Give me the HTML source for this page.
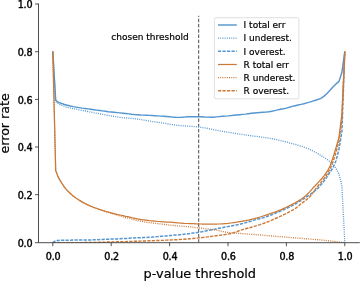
<!DOCTYPE html>
<html lang="en"><head><meta charset="utf-8"><title>error rate vs p-value threshold</title>
<style>html,body{margin:0;padding:0;background:#fff}svg{display:block}text{font-family:"DejaVu Sans","Liberation Sans",sans-serif;fill:#000;stroke:#000}</style></head><body>
<svg width="360" height="281" viewBox="0 0 360 281" stroke-width="0.2">
<rect width="360" height="281" fill="#fff"/>
<defs><clipPath id="ax"><rect x="38.5" y="3.9" width="320.8" height="238.8"/></clipPath></defs>
<line x1="198.7" y1="242.2" x2="198.7" y2="15.8" stroke="#4d4d4d" stroke-width="1" stroke-dashoffset="0.5" stroke-dasharray="3.5 1.75"/>
<g clip-path="url(#ax)" fill="none" stroke-linejoin="round">
<polyline points="52.8,51.5 55.7,100.4 58.6,102.3 61.6,103.5 64.5,104.5 67.4,105.3 70.3,106.0 73.2,106.6 76.2,107.1 79.1,107.6 82.0,108.1 84.9,108.5 87.8,108.9 90.8,109.3 93.7,109.7 96.6,110.1 99.5,110.5 102.4,110.9 105.4,111.3 108.3,111.7 111.2,112.0 114.1,112.3 117.0,112.6 120.0,112.9 122.9,113.2 125.8,113.5 128.7,113.9 131.6,114.3 134.6,114.6 137.5,114.8 140.4,115.0 143.3,115.1 146.2,115.2 149.2,115.4 152.1,115.5 155.0,115.7 157.9,115.9 160.8,116.1 163.8,116.3 166.7,116.5 169.6,116.8 172.5,117.1 175.4,117.3 178.4,117.4 181.3,117.3 184.2,117.1 187.1,116.8 190.0,116.7 193.0,116.7 195.9,116.7 198.8,116.7 201.7,116.8 204.6,117.0 207.6,117.1 210.5,117.2 213.4,117.2 216.3,116.9 219.2,116.6 222.2,116.3 225.1,116.1 228.0,115.9 230.9,115.6 233.8,115.3 236.8,115.0 239.7,114.7 242.6,114.4 245.5,114.1 248.4,113.7 251.4,113.3 254.3,113.0 257.2,112.7 260.1,112.5 263.0,112.3 266.0,112.1 268.9,111.8 271.8,111.3 274.7,110.6 277.6,109.9 280.6,109.2 283.5,108.7 286.4,108.1 289.3,107.3 292.2,106.4 295.2,105.7 298.1,105.0 301.0,104.4 303.9,103.7 306.8,102.9 309.8,102.1 312.7,101.1 315.6,100.2 318.5,99.3 321.4,98.1 324.4,95.9 327.3,93.2 330.2,90.1 333.1,86.8 336.0,83.9 339.0,81.4 341.9,72.3 344.8,51.5" stroke="#5596D0" stroke-width="1.45"/>
<polyline points="52.8,51.5 55.7,101.9 58.6,104.0 61.6,105.5 64.5,106.5 67.4,107.3 70.3,108.0 73.2,108.6 76.2,109.2 79.1,109.8 82.0,110.4 84.9,111.0 87.8,111.5 90.8,112.1 93.7,112.7 96.6,113.2 99.5,113.8 102.4,114.3 105.4,114.9 108.3,115.4 111.2,115.9 114.1,116.4 117.0,116.8 120.0,117.3 122.9,117.7 125.8,118.0 128.7,118.2 131.6,118.4 134.6,118.7 137.5,119.0 140.4,119.5 143.3,120.0 146.2,120.5 149.2,121.0 152.1,121.5 155.0,121.9 157.9,122.3 160.8,122.8 163.8,123.2 166.7,123.7 169.6,124.2 172.5,124.6 175.4,125.1 178.4,125.4 181.3,125.7 184.2,125.9 187.1,126.1 190.0,126.3 193.0,126.5 195.9,126.7 198.8,127.0 201.7,127.4 204.6,127.9 207.6,128.4 210.5,129.0 213.4,129.6 216.3,130.2 219.2,130.8 222.2,131.3 225.1,131.8 228.0,132.2 230.9,132.7 233.8,133.2 236.8,133.6 239.7,134.1 242.6,134.5 245.5,135.0 248.4,135.4 251.4,135.8 254.3,136.2 257.2,136.5 260.1,136.9 263.0,137.3 266.0,137.7 268.9,138.2 271.8,138.7 274.7,139.3 277.6,139.9 280.6,140.6 283.5,141.3 286.4,142.0 289.3,142.8 292.2,143.6 295.2,144.4 298.1,145.3 301.0,146.2 303.9,147.1 306.8,148.1 309.8,149.4 312.7,150.8 315.6,152.4 318.5,154.0 321.4,155.8 324.4,157.6 327.3,159.6 330.2,161.9 333.1,164.8 336.0,168.3 339.0,174.1 341.9,186.1 344.8,242.7" stroke="#5596D0" stroke-width="1.3" stroke-dasharray="1.0 1.2"/>
<polyline points="52.8,242.7 55.7,240.5 58.6,240.4 61.6,240.3 64.5,240.3 67.4,240.2 70.3,240.2 73.2,240.1 76.2,240.1 79.1,240.1 82.0,240.0 84.9,240.0 87.8,239.9 90.8,239.9 93.7,239.8 96.6,239.7 99.5,239.6 102.4,239.4 105.4,239.3 108.3,239.2 111.2,239.1 114.1,239.0 117.0,238.9 120.0,238.8 122.9,238.6 125.8,238.5 128.7,238.3 131.6,238.1 134.6,237.9 137.5,237.8 140.4,237.7 143.3,237.6 146.2,237.5 149.2,237.3 152.1,237.1 155.0,236.8 157.9,236.6 160.8,236.3 163.8,236.1 166.7,235.9 169.6,235.6 172.5,235.4 175.4,235.1 178.4,234.9 181.3,234.6 184.2,234.2 187.1,233.9 190.0,233.5 193.0,233.1 195.9,232.7 198.8,232.3 201.7,231.8 204.6,231.2 207.6,230.6 210.5,230.1 213.4,229.5 216.3,228.9 219.2,228.3 222.2,227.7 225.1,227.1 228.0,226.6 230.9,226.0 233.8,225.4 236.8,224.9 239.7,224.2 242.6,223.5 245.5,222.7 248.4,221.8 251.4,221.0 254.3,220.1 257.2,219.3 260.1,218.5 263.0,217.7 266.0,216.8 268.9,215.8 271.8,214.7 274.7,213.5 277.6,212.3 280.6,211.1 283.5,209.8 286.4,208.4 289.3,207.0 292.2,205.6 295.2,204.0 298.1,202.3 301.0,200.5 303.9,198.6 306.8,196.7 309.8,194.7 312.7,192.6 315.6,190.2 318.5,187.6 321.4,184.3 324.4,180.5 327.3,176.4 330.2,171.9 333.1,167.4 336.0,160.8 339.0,149.1 341.9,131.4 344.8,51.5" stroke="#5596D0" stroke-width="1.5" stroke-dasharray="3.25 1.25"/>
<polyline points="52.8,51.5 55.7,170.5 58.6,177.9 61.6,182.8 64.5,187.3 67.4,190.6 70.3,193.5 73.2,196.0 76.2,198.2 79.1,200.1 82.0,201.9 84.9,203.5 87.8,204.9 90.8,206.2 93.7,207.4 96.6,208.5 99.5,209.4 102.4,210.4 105.4,211.3 108.3,212.1 111.2,212.9 114.1,213.7 117.0,214.4 120.0,215.0 122.9,215.6 125.8,216.3 128.7,216.9 131.6,217.7 134.6,218.3 137.5,218.9 140.4,219.4 143.3,219.8 146.2,220.2 149.2,220.6 152.1,220.9 155.0,221.2 157.9,221.5 160.8,221.7 163.8,221.9 166.7,222.1 169.6,222.2 172.5,222.4 175.4,222.6 178.4,222.9 181.3,223.1 184.2,223.4 187.1,223.5 190.0,223.6 193.0,223.7 195.9,223.8 198.8,223.9 201.7,224.0 204.6,224.0 207.6,224.1 210.5,224.1 213.4,224.1 216.3,224.1 219.2,224.0 222.2,223.8 225.1,223.6 228.0,223.4 230.9,223.0 233.8,222.6 236.8,222.2 239.7,221.7 242.6,221.2 245.5,220.7 248.4,220.1 251.4,219.4 254.3,218.7 257.2,217.9 260.1,217.0 263.0,216.0 266.0,215.1 268.9,214.2 271.8,213.2 274.7,212.2 277.6,211.1 280.6,209.9 283.5,208.6 286.4,207.3 289.3,205.9 292.2,204.4 295.2,202.8 298.1,201.1 301.0,199.3 303.9,197.2 306.8,194.7 309.8,191.6 312.7,188.3 315.6,185.2 318.5,182.1 321.4,179.0 324.4,175.4 327.3,171.2 330.2,165.8 333.1,157.3 336.0,147.7 339.0,137.3 341.9,114.2 344.8,51.5" stroke="#CB7A38" stroke-width="1.25"/>
<polyline points="52.8,51.5 55.7,170.5 58.6,177.9 61.6,182.8 64.5,187.3 67.4,190.6 70.3,193.5 73.2,196.0 76.2,198.2 79.1,200.1 82.0,201.9 84.9,203.5 87.8,204.9 90.8,206.2 93.7,207.4 96.6,208.4 99.5,209.4 102.4,210.4 105.4,211.4 108.3,212.3 111.2,213.3 114.1,214.2 117.0,215.1 120.0,215.9 122.9,216.8 125.8,217.6 128.7,218.3 131.6,219.1 134.6,219.8 137.5,220.5 140.4,221.1 143.3,221.7 146.2,222.2 149.2,222.6 152.1,223.0 155.0,223.3 157.9,223.7 160.8,224.0 163.8,224.4 166.7,224.7 169.6,225.1 172.5,225.4 175.4,225.7 178.4,225.9 181.3,226.1 184.2,226.3 187.1,226.6 190.0,226.9 193.0,227.2 195.9,227.6 198.8,227.9 201.7,228.2 204.6,228.6 207.6,228.9 210.5,229.3 213.4,229.7 216.3,230.1 219.2,230.7 222.2,231.4 225.1,232.0 228.0,232.5 230.9,232.7 233.8,233.0 236.8,233.2 239.7,233.4 242.6,233.6 245.5,233.8 248.4,234.1 251.4,234.3 254.3,234.5 257.2,234.8 260.1,235.0 263.0,235.2 266.0,235.5 268.9,235.7 271.8,236.0 274.7,236.2 277.6,236.5 280.6,236.7 283.5,236.9 286.4,237.2 289.3,237.4 292.2,237.7 295.2,237.9 298.1,238.1 301.0,238.4 303.9,238.6 306.8,238.8 309.8,239.0 312.7,239.3 315.6,239.5 318.5,239.8 321.4,240.0 324.4,240.3 327.3,240.6 330.2,240.9 333.1,241.3 336.0,241.6 339.0,242.0 341.9,242.3 344.8,242.7" stroke="#CB7A38" stroke-width="1.3" stroke-dasharray="1.0 1.2"/>
<polyline points="52.8,242.7 55.7,242.7 58.6,242.7 61.6,242.7 64.5,242.7 67.4,242.7 70.3,242.7 73.2,242.6 76.2,242.6 79.1,242.6 82.0,242.6 84.9,242.5 87.8,242.5 90.8,242.5 93.7,242.4 96.6,242.4 99.5,242.3 102.4,242.2 105.4,242.1 108.3,242.0 111.2,242.0 114.1,241.9 117.0,241.8 120.0,241.7 122.9,241.7 125.8,241.6 128.7,241.5 131.6,241.4 134.6,241.3 137.5,241.2 140.4,241.1 143.3,241.0 146.2,240.9 149.2,240.8 152.1,240.7 155.0,240.6 157.9,240.5 160.8,240.4 163.8,240.3 166.7,240.1 169.6,240.0 172.5,239.9 175.4,239.8 178.4,239.6 181.3,239.4 184.2,239.2 187.1,239.0 190.0,238.7 193.0,238.5 195.9,238.2 198.8,237.9 201.7,237.6 204.6,237.2 207.6,236.9 210.5,236.5 213.4,236.1 216.3,235.7 219.2,235.4 222.2,235.0 225.1,234.6 228.0,234.1 230.9,233.5 233.8,232.7 236.8,231.7 239.7,230.5 242.6,229.6 245.5,228.8 248.4,228.0 251.4,227.2 254.3,226.4 257.2,225.5 260.1,224.6 263.0,223.6 266.0,222.5 268.9,221.4 271.8,220.1 274.7,218.8 277.6,217.5 280.6,216.2 283.5,214.8 286.4,213.4 289.3,211.9 292.2,210.4 295.2,208.6 298.1,206.3 301.0,203.8 303.9,201.7 306.8,199.4 309.8,196.7 312.7,193.1 315.6,189.1 318.5,185.3 321.4,181.9 324.4,178.1 327.3,173.8 330.2,168.6 333.1,161.5 336.0,152.2 339.0,141.1 341.9,118.7 344.8,51.5" stroke="#CB7A38" stroke-width="1.45" stroke-dasharray="3.25 1.25"/>
</g>
<path d="M38.5,4.0V242.7H359.3" fill="none" stroke="#3a3a3a" stroke-width="0.9" stroke-linecap="square"/>
<path d="M52.8,242.7v3.5M38.5,242.7h-3.5M111.2,242.7v3.5M38.5,194.7h-3.5M169.6,242.7v3.5M38.5,147.0h-3.5M228.0,242.7v3.5M38.5,99.4h-3.5M286.4,242.7v3.5M38.5,51.7h-3.5M344.8,242.7v3.5M38.5,4.0h-3.5" stroke="#2a2a2a" stroke-width="0.8" fill="none"/>
<g font-size="9.6" letter-spacing="-0.2" stroke-width="0.4">
<text x="53.2" y="259.6" text-anchor="middle">0.0</text>
<text x="111.6" y="259.6" text-anchor="middle">0.2</text>
<text x="170.0" y="259.6" text-anchor="middle">0.4</text>
<text x="228.4" y="259.6" text-anchor="middle">0.6</text>
<text x="286.8" y="259.6" text-anchor="middle">0.8</text>
<text x="345.2" y="259.6" text-anchor="middle">1.0</text>
<text x="32.3" y="246.6" text-anchor="end">0.0</text>
<text x="32.3" y="198.9" text-anchor="end">0.2</text>
<text x="32.3" y="151.3" text-anchor="end">0.4</text>
<text x="32.3" y="103.6" text-anchor="end">0.6</text>
<text x="32.3" y="56.0" text-anchor="end">0.8</text>
<text x="32.3" y="8.3" text-anchor="end">1.0</text>
</g>
<text x="199.8" y="277.8" font-size="12.9" text-anchor="middle">p-value threshold</text>
<text transform="translate(9.3,123.4) rotate(-90)" font-size="12.65" text-anchor="middle">error rate</text>
<text x="111.3" y="40.3" font-size="9">chosen threshold</text>
<rect x="214.4" y="17.7" width="84.5" height="81.1" rx="1.8" ry="1.8" fill="#fff" fill-opacity="0.8" stroke="#ccc" stroke-opacity="0.8" stroke-width="0.8"/>
<g font-size="9">
<line x1="218" y1="25.0" x2="236.8" y2="25.0" stroke="#5596D0" stroke-width="1.45"/>
<text x="243.6" y="28.2">I total err</text>
<line x1="218" y1="38.2" x2="236.8" y2="38.2" stroke="#5596D0" stroke-width="1.3" stroke-dasharray="1.0 1.2"/>
<text x="243.6" y="41.4">I underest.</text>
<line x1="218" y1="51.3" x2="236.8" y2="51.3" stroke="#5596D0" stroke-width="1.5" stroke-dasharray="3.25 1.25"/>
<text x="243.6" y="54.6">I overest.</text>
<line x1="218" y1="64.5" x2="236.8" y2="64.5" stroke="#CB7A38" stroke-width="1.25"/>
<text x="243.6" y="67.8">R total err</text>
<line x1="218" y1="77.7" x2="236.8" y2="77.7" stroke="#CB7A38" stroke-width="1.3" stroke-dasharray="1.0 1.2"/>
<text x="243.6" y="80.9">R underest.</text>
<line x1="218" y1="90.8" x2="236.8" y2="90.8" stroke="#CB7A38" stroke-width="1.45" stroke-dasharray="3.25 1.25"/>
<text x="243.6" y="94.1">R overest.</text>
</g>
</svg></body></html>
